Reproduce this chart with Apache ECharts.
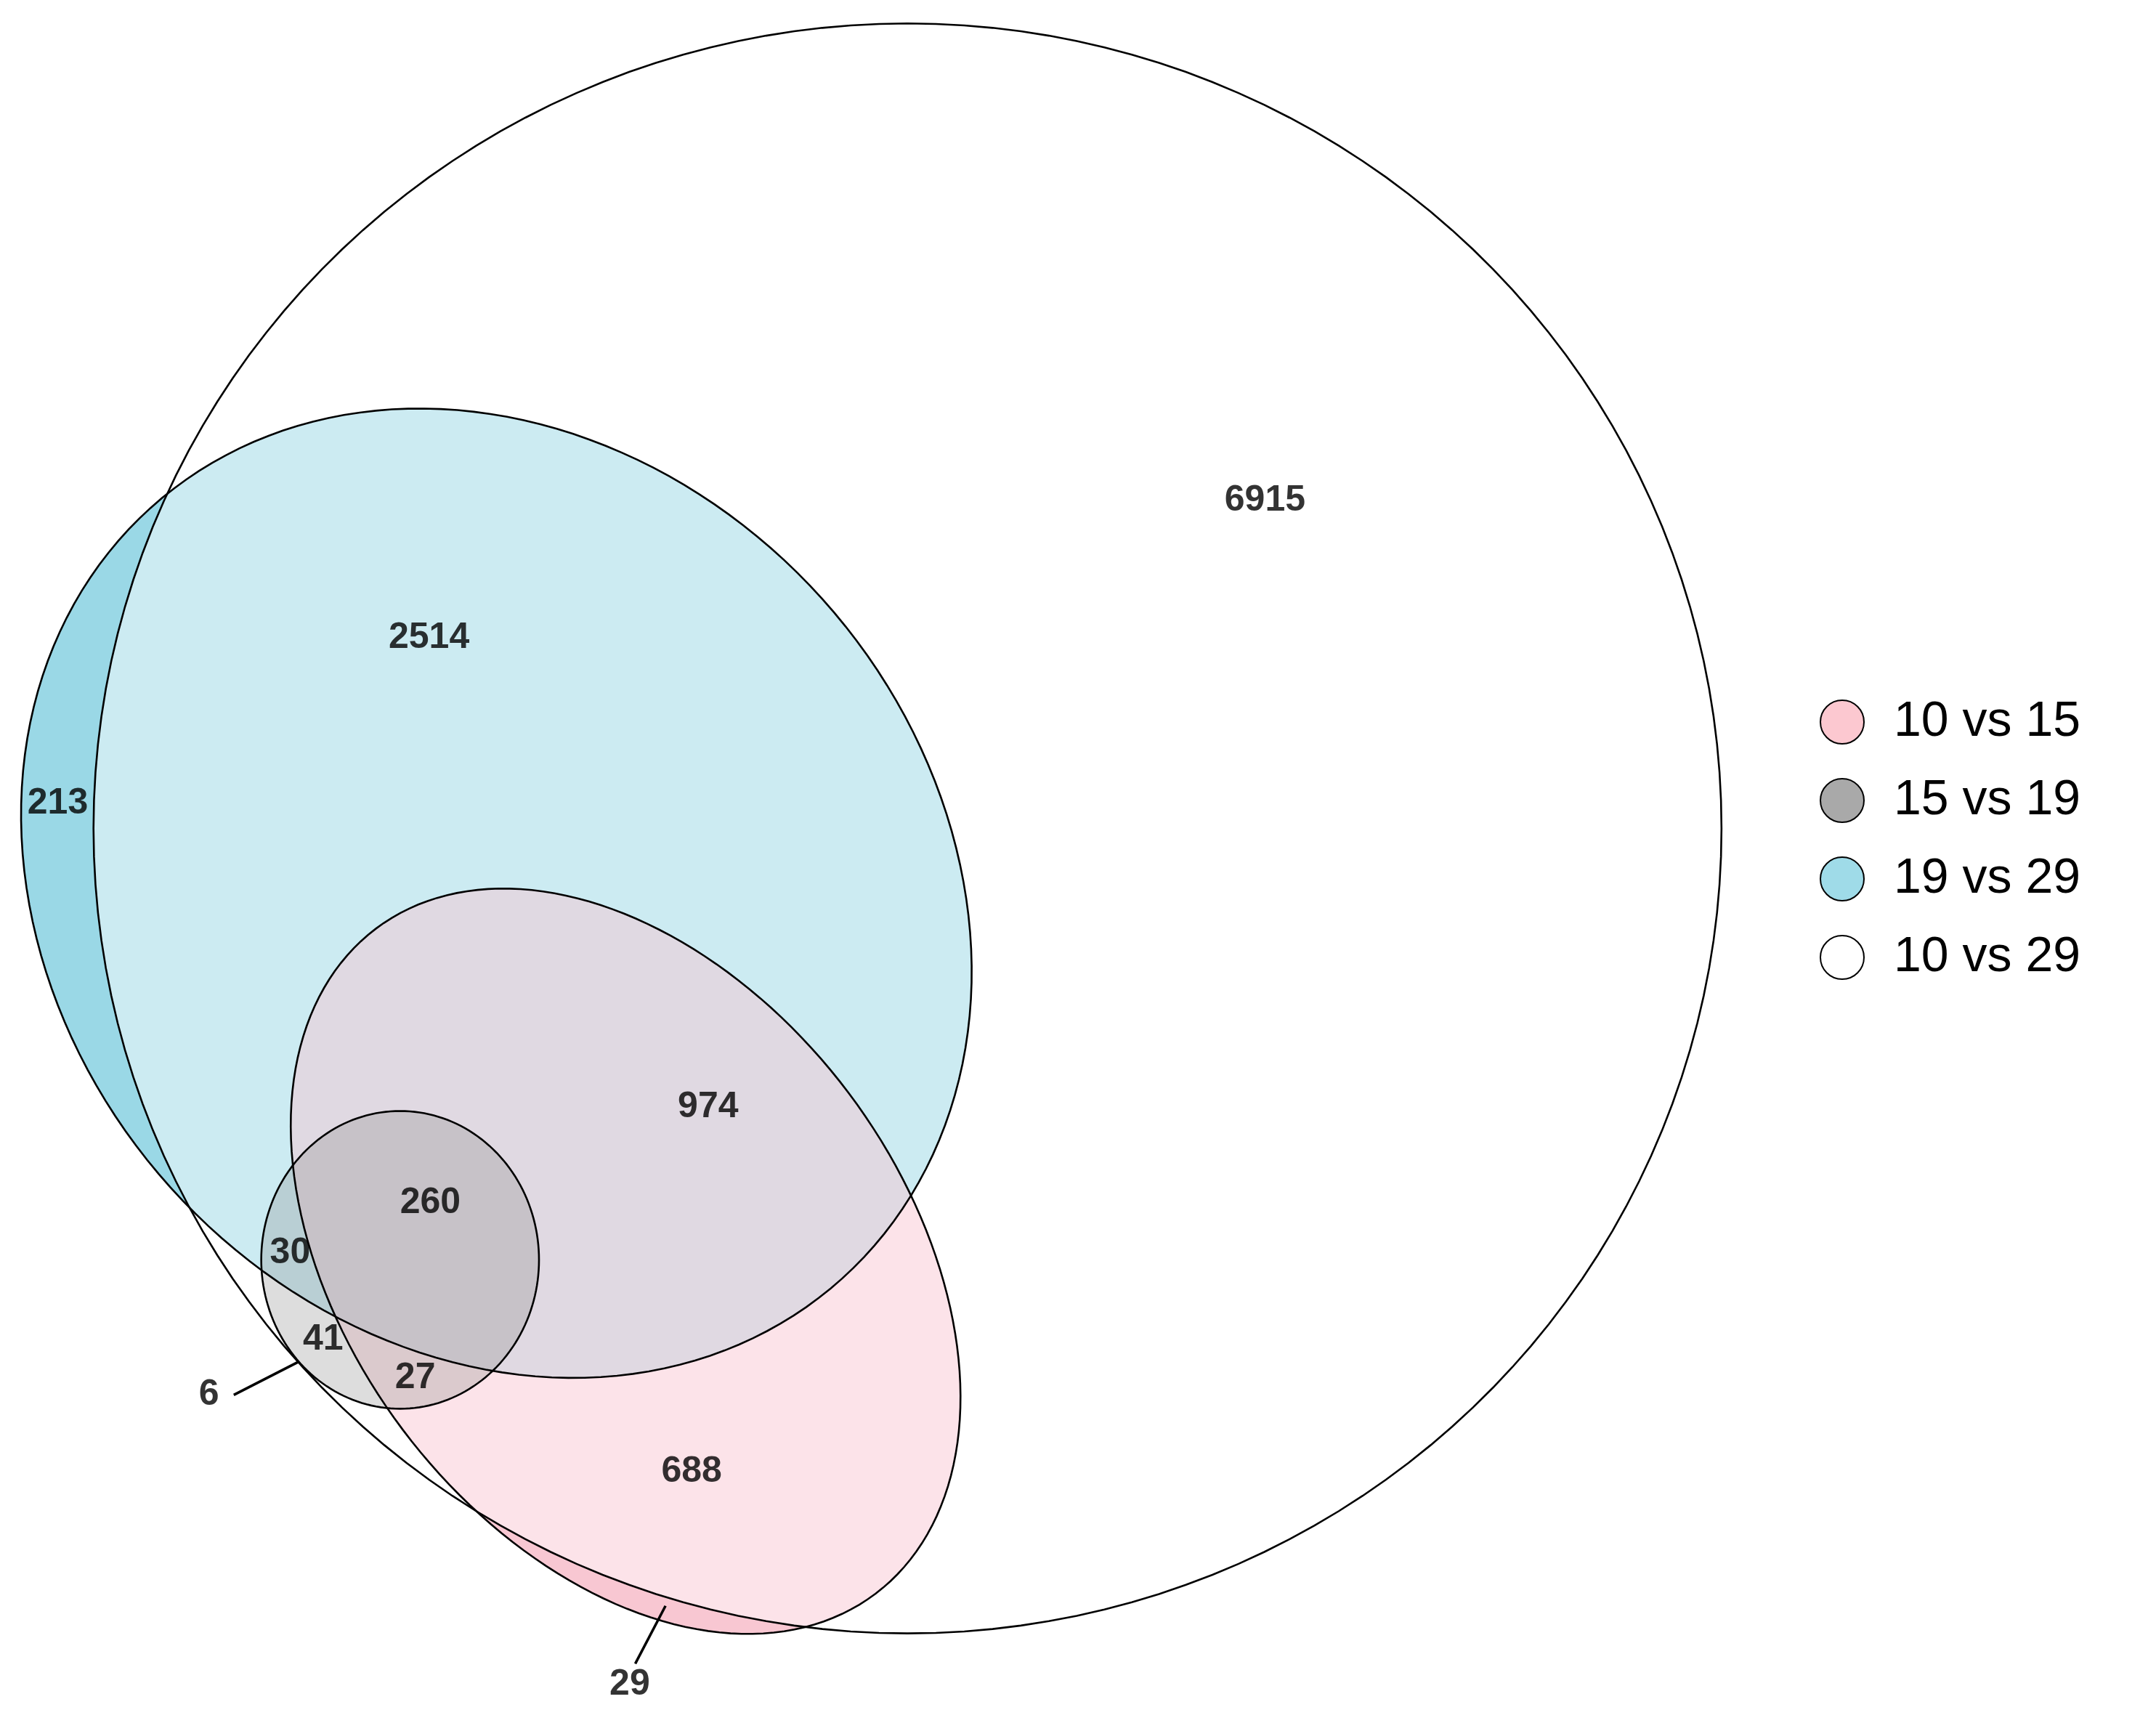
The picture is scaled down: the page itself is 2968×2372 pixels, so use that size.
<!DOCTYPE html>
<html>
<head>
<meta charset="UTF-8">
<script src="https://cdn.jsdelivr.net/npm/echarts@6/dist/echarts.min.js"></script>
</head>
<body style="margin:0">
<div id="main" style="width:2968px;height:2372px;background:#fff;"></div>
<script>
  // sets, drawn in plot units (x 0..1568, y 0..1250 downwards)
  const setNames = ['19 vs 29', '10 vs 15', '15 vs 19', '10 vs 29'];
  const centerX = [361, 455, 291, 660];
  const centerY = [648, 915, 914, 601];
  const radiusA = [376, 302, 101, 592];
  const radiusB = [319, 203, 108, 584];
  const angleDeg = [48, 53, 0, 0];
  const fills = ['rgba(53,177,205,0.5)', 'rgba(240,130,155,0.45)', 'rgba(30,30,30,0.3)', 'rgba(255,255,255,0.5)'];
  const legendColors = ['#9fdbe8', '#fcc8d0', '#a9a9a9', '#ffffff'];

  // region counts
  const counts = ['6915', '2514', '213', '974', '260', '30', '41', '27', '688', '6', '29'];
  const labelX = [920, 312, 42, 515, 313, 211, 235, 302, 503, 152, 458];
  const labelY = [363, 463, 583, 803, 873, 909, 972, 1000, 1068, 1012, 1222];

  // leader lines for the small regions
  const leaders = [[170, 1012, 217, 988], [462, 1207, 484, 1165]];

  function ellipsePoints(api, cx, cy, a, b, ang) {
    const th = ang * Math.PI / 180, pts = [];
    for (let i = 0; i < 180; i++) {
      const t = i / 180 * Math.PI * 2;
      const x = cx + a * Math.cos(th) * Math.cos(t) - b * Math.sin(th) * Math.sin(t);
      const y = cy + a * Math.sin(th) * Math.cos(t) + b * Math.cos(th) * Math.sin(t);
      pts.push(api.coord([x, y]));
    }
    return pts;
  }

  const series = setNames.map((name, i) => ({
    name: name,
    type: 'custom',
    z: 2,
    itemStyle: { color: legendColors[i], borderColor: '#000', borderWidth: 2 },
    data: [[centerX[i], centerY[i], radiusA[i], radiusB[i], angleDeg[i]]],
    renderItem: function (params, api) {
      return {
        type: 'polygon',
        shape: { points: ellipsePoints(api, api.value(0), api.value(1), api.value(2), api.value(3), api.value(4)) },
        style: { fill: fills[i], stroke: null }
      };
    }
  }));

  // outlines on top
  series.push({
    type: 'custom',
    z: 5,
    silent: true,
    data: setNames.map((n, i) => [centerX[i], centerY[i], radiusA[i], radiusB[i], angleDeg[i]]),
    renderItem: function (params, api) {
      return {
        type: 'polygon',
        shape: { points: ellipsePoints(api, api.value(0), api.value(1), api.value(2), api.value(3), api.value(4)) },
        style: { fill: null, stroke: '#000', lineWidth: 2.6 }
      };
    }
  });

  series.push({
    type: 'custom',
    z: 6,
    silent: true,
    data: leaders,
    renderItem: function (params, api) {
      const p1 = api.coord([api.value(0), api.value(1)]);
      const p2 = api.coord([api.value(2), api.value(3)]);
      return {
        type: 'line',
        shape: { x1: p1[0], y1: p1[1], x2: p2[0], y2: p2[1] },
        style: { stroke: '#000', lineWidth: 3.5 }
      };
    }
  });

  series.push({
    type: 'scatter',
    z: 7,
    silent: true,
    symbolSize: 0,
    data: counts.map((c, i) => [labelX[i], labelY[i], c]),
    label: {
      show: true,
      position: 'inside',
      formatter: p => p.value[2],
      color: '#000',
      textBorderWidth: 0,
      fontSize: 50,
      fontWeight: 'bold',
      fontFamily: 'Liberation Sans'
    }
  });

  const myChart = echarts.init(document.getElementById('main'));
  myChart.setOption({
    animation: false,
    grid: { left: 0, right: 0, top: 0, bottom: 0 },
    xAxis: { type: 'value', min: 0, max: 1568, show: false },
    yAxis: { type: 'value', min: 0, max: 1250, inverse: true, show: false },
    legend: {
      data: ['10 vs 15', '15 vs 19', '19 vs 29', '10 vs 29'],
      orient: 'vertical',
      left: 2500,
      top: 955,
      icon: 'circle',
      itemWidth: 60,
      itemHeight: 60,
      itemGap: 40,
      selectedMode: false,
      itemStyle: { borderColor: '#000', borderWidth: 2 },
      textStyle: { fontSize: 68, color: '#000', fontFamily: 'Liberation Sans', padding: [0, 0, 0, 36] }
    },
    series: series
  });
</script>
</body>
</html>
